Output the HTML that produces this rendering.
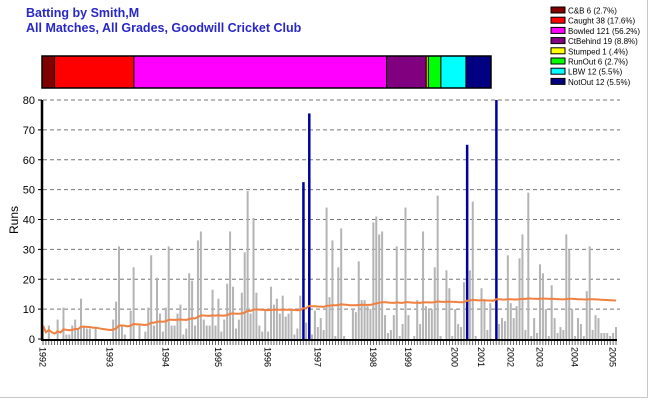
<!DOCTYPE html>
<html><head><meta charset="utf-8"><style>
html,body{margin:0;padding:0;background:#fff;}
body{width:650px;height:400px;overflow:hidden;font-family:"Liberation Sans",Arial,sans-serif;}
</style></head><body>
<svg id="chart" width="650" height="400" xmlns="http://www.w3.org/2000/svg" font-family="Liberation Sans, Arial, sans-serif">
<rect x="0" y="0" width="650" height="400" fill="#fff"/>
<line x1="647.5" y1="0" x2="647.5" y2="397" stroke="#c8c8c8"/>
<line x1="0" y1="397.5" x2="648" y2="397.5" stroke="#c8c8c8"/>
<text x="26" y="17" font-size="12.5" font-weight="bold" fill="#2828c8">Batting by Smith,M</text>
<text x="26" y="32" font-size="12.5" font-weight="bold" fill="#2828c8">All Matches, All Grades, Goodwill Cricket Club</text>
<g id="strip"></g>
<g id="legend"></g>
<g id="grid"></g>
<g id="bars"></g>
<g id="avg"></g>
<g id="axes"></g>
<text transform="translate(18,220) rotate(-90)" text-anchor="middle" font-size="12" fill="#000">Runs</text>
</svg>
<script>
const dismissalLabels = ["C&B 6 (2.7%)","Caught 38 (17.6%)","Bowled 121 (56.2%)","CtBehind 19 (8.8%)","Stumped 1 (.4%)","RunOut 6 (2.7%)","LBW 12 (5.5%)","NotOut 12 (5.5%)"];
const dismissalCounts = [6,38,121,19,1,6,12,12];
const dismissalColors = ["#800000","#ff0000","#ff00ff","#800080","#ffff00","#00ff00","#00ffff","#000080"];
const runs = [4.5,0,4.5,0,0,6.5,0,10.5,1.5,1.5,
4.5,6.5,3.5,13.5,4.5,3.5,3.5,0,3.5,0,
0,0,0,0,6.5,12.5,31,4.5,1.5,0,
9.5,24,0,4.5,0,2.5,10.5,28,4.5,20.5,
8.5,2.5,10.5,31,4.5,4.5,8.5,11.5,1.5,3.5,
22,19.5,4.5,33,36,6.5,4.5,4.5,16.5,4.5,
13.5,2.5,6.5,18.5,36,17.5,3.5,6.5,15.5,29,
49.5,8.5,40.5,15.5,4.5,2.5,9.5,2.5,17.5,11.5,
13.5,8.5,14.5,7.5,8.5,9.5,1.5,3.5,14.5,52.5,
5.5,75.5,1.5,9.5,
4,7,3,44,14,33,1,24,37,1,
0,0,10,9,26,13,13,11,10,39,
41,35,36,8,2,3,8,31,1,5,
44,8,0,1,13,5,36,11,10,10,
24,48,1,0,23,17,1,10,5,4,
19,65,23,46,1,0,17,13,3,12,
0,80,5,7,6,28,12,7,11,27,
35,3,49,1,7,2,25,22,10,1,
18,7,2,4,3,35,30,10,1,7,
5,1,16,31,3,8,7,2,2,2,
1,2,4];
const notOutIdx = [89,91,145,155];
const yearLabels = ["1992","1993","1994","1995","1996","1997","1998","1999","2000","2001","2002","2003","2004","2005"];
const yearIdx = [0,23,42,60,77,94,113,125,141,150,160,170,182,195];
const yTicks = [0,10,20,30,40,50,60,70,80];

const NS="http://www.w3.org/2000/svg";
function mk(tag,attrs,parent){const e=document.createElementNS(NS,tag);for(const k in attrs)e.setAttribute(k,attrs[k]);parent.appendChild(e);return e;}
const X0=43, X1=616, Y0=339, Y1=100, YMAX=80;
const n=runs.length;
const step=(X1-X0)/(n-1);
const xS=i=>X0+i*step;
const yS=v=>Y0-(v/YMAX)*(Y0-Y1);

// strip
const strip=document.getElementById('strip');
const total=dismissalCounts.reduce((a,b)=>a+b,0);
let sx=42; const sw=449;
dismissalCounts.forEach((c,i)=>{
  const w=c/total*sw;
  const r=mk('rect',{x:sx,y:56,width:w,height:32,fill:dismissalColors[i],stroke:'#000','stroke-width':1},strip);
  
  
  sx+=w;
});
const outline=mk('rect',{x:42,y:56,width:sw,height:32,fill:'none',stroke:'#000','stroke-width':1.5},strip);



// legend
const lg=document.getElementById('legend');
dismissalLabels.forEach((l,i)=>{
  const y=6+i*10.2;
  const g=mk('g',{},lg);
  
  
  mk('rect',{x:551,y:y+1,width:14,height:6,fill:dismissalColors[i],stroke:'#000','stroke-width':1},g);
  const t=mk('text',{x:568,y:y+7.5,'font-size':'8',fill:'#000'},g);
  t.textContent=l;
});

// grid
const grid=document.getElementById('grid');
yTicks.forEach(v=>{
  if(v===0)return;
  const l=mk('line',{x1:X0,x2:620,y1:yS(v),y2:yS(v),stroke:'#777','stroke-dasharray':'4,3','stroke-width':1},grid);
  
  
});

// bars
const bars=document.getElementById('bars');
runs.forEach((v,i)=>{
  if(v<=0)return;
  const no=notOutIdx.includes(i);
  const r=mk('rect',{x:xS(i)-(no?1:1),y:yS(v),width:no?2.5:2,height:Y0-yS(v),fill:no?'#0000a0':'#b4b4b4'},bars);
  
  
});

// running average
let sum=0,outs=0,pts=[];
runs.forEach((v,i)=>{
  sum+=v; if(!notOutIdx.includes(i)) outs++;
  const a=outs?sum/outs:0;
  pts.push(xS(i).toFixed(1)+','+yS(a).toFixed(1));
});
const pl=mk('polyline',{points:pts.join(' '),fill:'none',stroke:'#f08040','stroke-width':2},document.getElementById('avg'));



// axes
const ax=document.getElementById('axes');
const ya=mk('line',{x1:42,x2:42,y1:Y1,y2:Y0+1,stroke:'#000','stroke-width':2.5},ax);


const xa=mk('line',{x1:41,x2:617,y1:Y0+1,y2:Y0+1,stroke:'#000','stroke-width':2},ax);


yTicks.forEach(v=>{
  mk('line',{x1:38,x2:42,y1:yS(v),y2:yS(v),stroke:'#000'},ax);
  const t=mk('text',{x:35,y:yS(v)+4,'text-anchor':'end','font-size':'11',fill:'#000'},ax);
  
  
  t.textContent=v;
});
runs.forEach((v,i)=>{
  mk('line',{x1:xS(i),x2:xS(i),y1:Y0+2,y2:Y0+6,stroke:'#000','stroke-width':0.6},ax);
});
yearLabels.forEach((l,k)=>{
  const x=xS(yearIdx[k]);
  const t=mk('text',{transform:`translate(${x-3.5},${Y0+8}) rotate(90)`,'font-size':'9',fill:'#000'},ax);
  
  
  t.textContent=l;
});
</script>
</body></html>
